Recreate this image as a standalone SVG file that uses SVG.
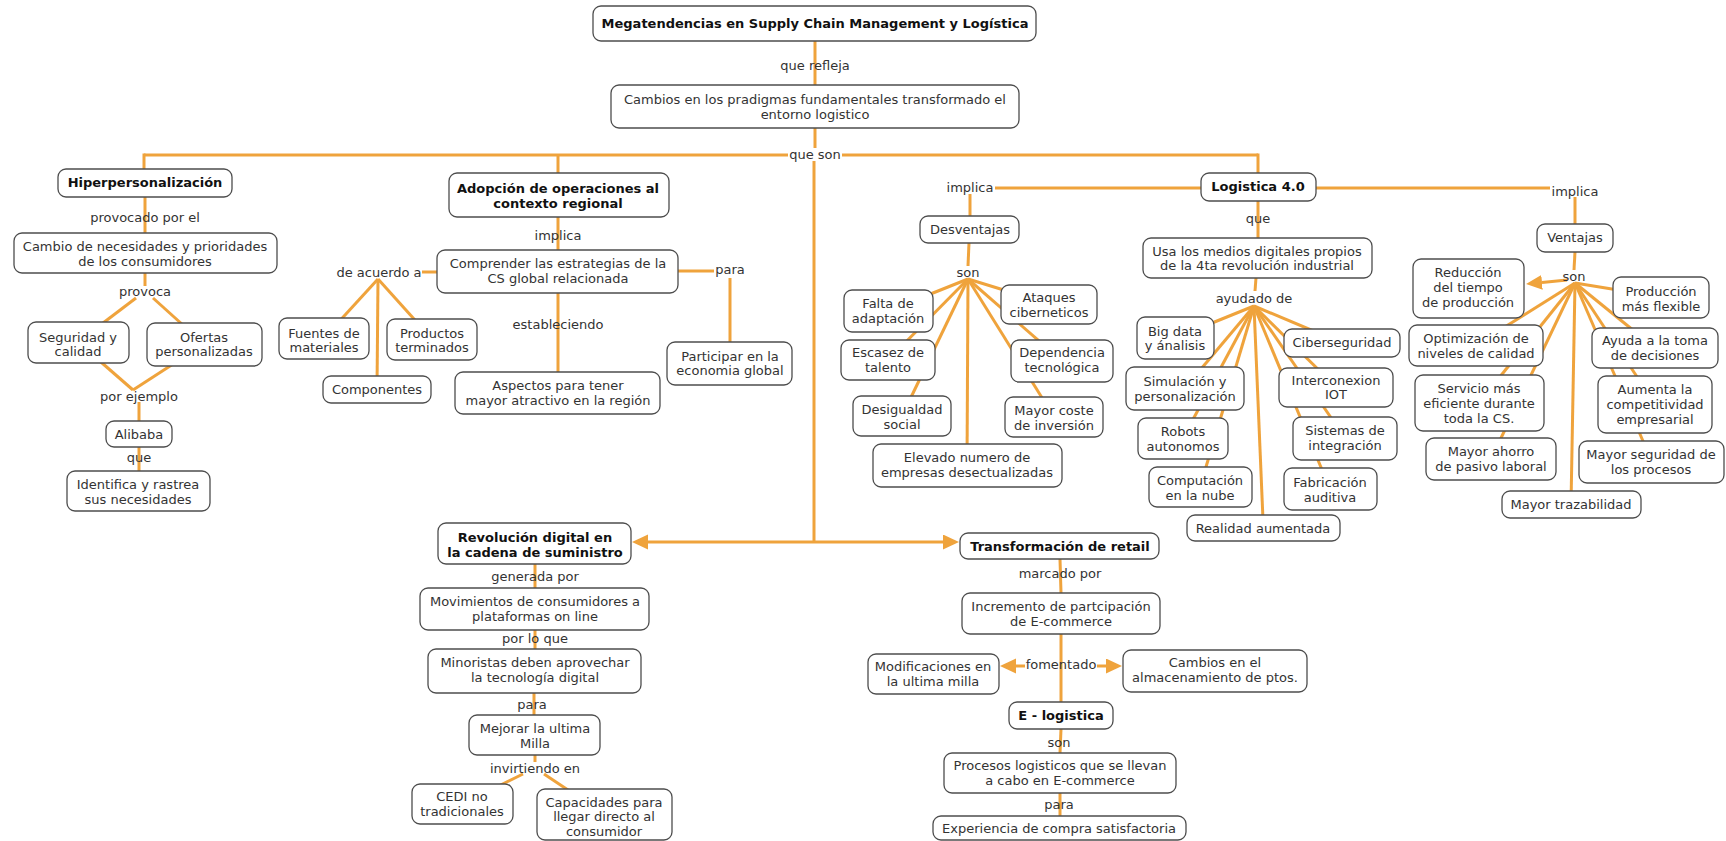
<svg xmlns="http://www.w3.org/2000/svg" width="1726" height="841" viewBox="0 0 1726 841">
<style>
.n rect{fill:#fff;stroke:#4d4d4d;stroke-width:1.3}
text{font-family:"DejaVu Sans",Verdana,sans-serif;font-size:13px;fill:#333;text-anchor:middle}
.b{font-weight:bold;fill:#111}
#connectors line{stroke:#EFA33C;stroke-width:3;fill:none}
</style>
<defs>
<marker id="ah" markerUnits="userSpaceOnUse" markerWidth="17" markerHeight="16" refX="0" refY="7.5" orient="auto"><path d="M0,0 L16,7.5 L0,15 z" fill="#EFA33C"/></marker>
</defs>
<rect width="1726" height="841" fill="#fff"/>
<g id="connectors">
<line x1="815" y1="41" x2="815" y2="85"/>
<line x1="815" y1="128" x2="815" y2="148"/>
<line x1="144" y1="155" x2="788" y2="155"/>
<line x1="842" y1="155" x2="1258" y2="155"/>
<line x1="144" y1="153.5" x2="144" y2="169"/>
<line x1="558" y1="155" x2="558" y2="173"/>
<line x1="1258" y1="153.5" x2="1258" y2="173"/>
<line x1="814" y1="161" x2="814" y2="542"/>
<line x1="814" y1="542" x2="648" y2="542" marker-end="url(#ah)"/>
<line x1="814" y1="542" x2="943" y2="542" marker-end="url(#ah)"/>
<line x1="145" y1="197" x2="145" y2="233"/>
<line x1="145" y1="273" x2="145" y2="286"/>
<line x1="136" y1="298" x2="78" y2="342"/>
<line x1="153" y1="298" x2="204" y2="344"/>
<line x1="78" y1="342" x2="133" y2="390"/>
<line x1="204" y1="344" x2="133" y2="390"/>
<line x1="139" y1="402" x2="139" y2="421"/>
<line x1="139" y1="447" x2="139" y2="471"/>
<line x1="378" y1="279" x2="324" y2="338"/>
<line x1="378" y1="279" x2="377" y2="389"/>
<line x1="378" y1="279" x2="432" y2="339"/>
<line x1="422" y1="272" x2="437" y2="272"/>
<line x1="558" y1="217" x2="558" y2="250"/>
<line x1="558" y1="293" x2="558" y2="372"/>
<line x1="678" y1="271" x2="714" y2="271"/>
<line x1="730" y1="278" x2="730" y2="342"/>
<line x1="995" y1="188" x2="1201" y2="188"/>
<line x1="970" y1="194" x2="970" y2="216"/>
<line x1="969" y1="243" x2="968" y2="266"/>
<line x1="968" y1="279" x2="888" y2="311"/>
<line x1="968" y1="279" x2="888" y2="360"/>
<line x1="968" y1="279" x2="902" y2="416"/>
<line x1="968" y1="279" x2="967" y2="465"/>
<line x1="968" y1="279" x2="1049" y2="304"/>
<line x1="968" y1="279" x2="1062" y2="361"/>
<line x1="968" y1="279" x2="1054" y2="417"/>
<line x1="1258" y1="201" x2="1258" y2="238"/>
<line x1="1256" y1="278" x2="1255" y2="291"/>
<line x1="1254" y1="306" x2="1175" y2="338"/>
<line x1="1254" y1="306" x2="1185" y2="388"/>
<line x1="1254" y1="306" x2="1183" y2="438"/>
<line x1="1254" y1="306" x2="1200" y2="487"/>
<line x1="1254" y1="306" x2="1263" y2="520"/>
<line x1="1254" y1="306" x2="1342" y2="343"/>
<line x1="1254" y1="306" x2="1336" y2="387"/>
<line x1="1254" y1="306" x2="1345" y2="438"/>
<line x1="1254" y1="306" x2="1330" y2="489"/>
<line x1="1316" y1="188" x2="1550" y2="188"/>
<line x1="1575" y1="197" x2="1575" y2="224"/>
<line x1="1575" y1="252" x2="1574" y2="270"/>
<line x1="1567" y1="280" x2="1542" y2="282.4" marker-end="url(#ah)"/>
<line x1="1575" y1="283" x2="1661" y2="297"/>
<line x1="1575" y1="283" x2="1476" y2="345"/>
<line x1="1575" y1="283" x2="1655" y2="348"/>
<line x1="1575" y1="283" x2="1479" y2="403"/>
<line x1="1575" y1="283" x2="1655" y2="404"/>
<line x1="1575" y1="283" x2="1491" y2="459"/>
<line x1="1575" y1="283" x2="1652" y2="462"/>
<line x1="1575" y1="283" x2="1571" y2="504"/>
<line x1="535" y1="564" x2="535" y2="588"/>
<line x1="535" y1="630" x2="535" y2="649"/>
<line x1="534" y1="693" x2="534" y2="715"/>
<line x1="535" y1="755" x2="535" y2="762"/>
<line x1="523" y1="774" x2="462" y2="804"/>
<line x1="544" y1="774" x2="604" y2="814"/>
<line x1="1060" y1="559" x2="1061" y2="593"/>
<line x1="1061" y1="634" x2="1061" y2="702"/>
<line x1="1025" y1="666" x2="1016" y2="666" marker-end="url(#ah)"/>
<line x1="1097" y1="666" x2="1106" y2="666" marker-end="url(#ah)"/>
<line x1="1061" y1="729" x2="1060" y2="753"/>
<line x1="1060" y1="793" x2="1060" y2="816"/>
</g>
<g class="n" id="n-mega"><rect x="593" y="6" width="443" height="35" rx="8"/><text class="b" x="815" y="28">Megatendencias en Supply Chain Management y Logística</text></g>
<g class="n" id="n-cambios"><rect x="611" y="85" width="408" height="43" rx="8"/><text x="815" y="104">Cambios en los pradigmas fundamentales transformado el</text><text x="815" y="119">entorno logistico</text></g>
<g class="n" id="n-hiper"><rect x="58" y="169" width="174" height="28" rx="8"/><text class="b" x="145" y="187">Hiperpersonalización</text></g>
<g class="n" id="n-cambio-nec"><rect x="14" y="233" width="263" height="40" rx="8"/><text x="145" y="251">Cambio de necesidades y prioridades</text><text x="145" y="266">de los consumidores</text></g>
<g class="n" id="n-seguridad"><rect x="28" y="322" width="101" height="41" rx="8"/><text x="78" y="342">Seguridad y</text><text x="78" y="356">calidad</text></g>
<g class="n" id="n-ofertas"><rect x="147" y="323" width="115" height="43" rx="8"/><text x="204" y="342">Ofertas</text><text x="204" y="356">personalizadas</text></g>
<g class="n" id="n-alibaba"><rect x="106" y="421" width="66" height="26" rx="8"/><text x="139" y="439">Alibaba</text></g>
<g class="n" id="n-identifica"><rect x="67" y="471" width="143" height="40" rx="8"/><text x="138" y="489">Identifica y rastrea</text><text x="138" y="504">sus necesidades</text></g>
<g class="n" id="n-adopcion"><rect x="449" y="173" width="220" height="44" rx="8"/><text class="b" x="558" y="193">Adopción de operaciones al</text><text class="b" x="558" y="208">contexto regional</text></g>
<g class="n" id="n-comprender"><rect x="437" y="250" width="241" height="43" rx="8"/><text x="558" y="268">Comprender las estrategias de la</text><text x="558" y="283">CS global relacionada</text></g>
<g class="n" id="n-fuentes"><rect x="279" y="318" width="90" height="41" rx="8"/><text x="324" y="338">Fuentes de</text><text x="324" y="352">materiales</text></g>
<g class="n" id="n-productos"><rect x="387" y="319" width="90" height="41" rx="8"/><text x="432" y="338">Productos</text><text x="432" y="352">terminados</text></g>
<g class="n" id="n-componentes"><rect x="323" y="376" width="108" height="27" rx="8"/><text x="377" y="394">Componentes</text></g>
<g class="n" id="n-aspectos"><rect x="455" y="372" width="205" height="42" rx="8"/><text x="558" y="390">Aspectos para tener</text><text x="558" y="405">mayor atractivo en la región</text></g>
<g class="n" id="n-participar"><rect x="667" y="342" width="125" height="43" rx="8"/><text x="730" y="361">Participar en la</text><text x="730" y="375">economia global</text></g>
<g class="n" id="n-logistica"><rect x="1201" y="173" width="115" height="28" rx="8"/><text class="b" x="1258" y="191">Logistica 4.0</text></g>
<g class="n" id="n-desventajas"><rect x="920" y="216" width="99" height="27" rx="8"/><text x="970" y="234">Desventajas</text></g>
<g class="n" id="n-falta"><rect x="844" y="290" width="89" height="42" rx="8"/><text x="888" y="308">Falta de</text><text x="888" y="323">adaptación</text></g>
<g class="n" id="n-escasez"><rect x="841" y="340" width="94" height="40" rx="8"/><text x="888" y="357">Escasez de</text><text x="888" y="372">talento</text></g>
<g class="n" id="n-desigualdad"><rect x="853" y="396" width="98" height="40" rx="8"/><text x="902" y="414">Desigualdad</text><text x="902" y="429">social</text></g>
<g class="n" id="n-ataques"><rect x="1001" y="285" width="96" height="39" rx="8"/><text x="1049" y="302">Ataques</text><text x="1049" y="317">ciberneticos</text></g>
<g class="n" id="n-dependencia"><rect x="1011" y="340" width="102" height="42" rx="8"/><text x="1062" y="357">Dependencia</text><text x="1062" y="372">tecnológica</text></g>
<g class="n" id="n-coste"><rect x="1005" y="397" width="98" height="40" rx="8"/><text x="1054" y="415">Mayor coste</text><text x="1054" y="430">de inversión</text></g>
<g class="n" id="n-elevado"><rect x="873" y="444" width="189" height="43" rx="8"/><text x="967" y="462">Elevado numero de</text><text x="967" y="477">empresas desectualizadas</text></g>
<g class="n" id="n-usa"><rect x="1143" y="238" width="229" height="40" rx="8"/><text x="1257" y="256">Usa los medios digitales propios</text><text x="1257" y="270">de la 4ta revolución industrial</text></g>
<g class="n" id="n-bigdata"><rect x="1137" y="317" width="77" height="42" rx="8"/><text x="1175" y="336">Big data</text><text x="1175" y="350">y ánalisis</text></g>
<g class="n" id="n-simulacion"><rect x="1126" y="367" width="118" height="43" rx="8"/><text x="1185" y="386">Simulación y</text><text x="1185" y="401">personalización</text></g>
<g class="n" id="n-robots"><rect x="1138" y="418" width="90" height="41" rx="8"/><text x="1183" y="436">Robots</text><text x="1183" y="451">autonomos</text></g>
<g class="n" id="n-computacion"><rect x="1149" y="467" width="103" height="40" rx="8"/><text x="1200" y="485">Computación</text><text x="1200" y="500">en la nube</text></g>
<g class="n" id="n-realidad"><rect x="1187" y="515" width="153" height="26" rx="8"/><text x="1263" y="533">Realidad aumentada</text></g>
<g class="n" id="n-ciber"><rect x="1284" y="329" width="116" height="28" rx="8"/><text x="1342" y="347">Ciberseguridad</text></g>
<g class="n" id="n-iot"><rect x="1279" y="368" width="114" height="39" rx="8"/><text x="1336" y="385">Interconexion</text><text x="1336" y="399">IOT</text></g>
<g class="n" id="n-sistemas"><rect x="1293" y="417" width="104" height="43" rx="8"/><text x="1345" y="435">Sistemas de</text><text x="1345" y="450">integración</text></g>
<g class="n" id="n-fabricacion"><rect x="1284" y="468" width="93" height="42" rx="8"/><text x="1330" y="487">Fabricación</text><text x="1330" y="502">auditiva</text></g>
<g class="n" id="n-ventajas"><rect x="1537" y="224" width="76" height="28" rx="8"/><text x="1575" y="242">Ventajas</text></g>
<g class="n" id="n-reduccion"><rect x="1413" y="259" width="111" height="59" rx="8"/><text x="1468" y="277">Reducción</text><text x="1468" y="292">del tiempo</text><text x="1468" y="307">de producción</text></g>
<g class="n" id="n-produccion"><rect x="1613" y="277" width="96" height="41" rx="8"/><text x="1661" y="296">Producción</text><text x="1661" y="311">más flexible</text></g>
<g class="n" id="n-optimizacion"><rect x="1409" y="325" width="134" height="41" rx="8"/><text x="1476" y="343">Optimización de</text><text x="1476" y="358">niveles de calidad</text></g>
<g class="n" id="n-ayuda"><rect x="1592" y="328" width="126" height="40" rx="8"/><text x="1655" y="345">Ayuda a la toma</text><text x="1655" y="360">de decisiones</text></g>
<g class="n" id="n-servicio"><rect x="1415" y="375" width="129" height="56" rx="8"/><text x="1479" y="393">Servicio más</text><text x="1479" y="408">eficiente durante</text><text x="1479" y="423">toda la CS.</text></g>
<g class="n" id="n-aumenta"><rect x="1598" y="376" width="114" height="57" rx="8"/><text x="1655" y="394">Aumenta la</text><text x="1655" y="409">competitividad</text><text x="1655" y="424">empresarial</text></g>
<g class="n" id="n-ahorro"><rect x="1426" y="438" width="130" height="42" rx="8"/><text x="1491" y="456">Mayor ahorro</text><text x="1491" y="471">de pasivo laboral</text></g>
<g class="n" id="n-seguridad-proc"><rect x="1579" y="441" width="145" height="42" rx="8"/><text x="1651" y="459">Mayor seguridad de</text><text x="1651" y="474">los procesos</text></g>
<g class="n" id="n-trazabilidad"><rect x="1502" y="491" width="139" height="27" rx="8"/><text x="1571" y="509">Mayor trazabilidad</text></g>
<g class="n" id="n-revolucion"><rect x="438" y="523" width="193" height="41" rx="8"/><text class="b" x="535" y="542">Revolución digital en</text><text class="b" x="535" y="557">la cadena de suministro</text></g>
<g class="n" id="n-movimientos"><rect x="420" y="588" width="229" height="42" rx="8"/><text x="535" y="606">Movimientos de consumidores a</text><text x="535" y="621">plataformas on line</text></g>
<g class="n" id="n-minoristas"><rect x="428" y="649" width="213" height="44" rx="8"/><text x="535" y="667">Minoristas deben aprovechar</text><text x="535" y="682">la tecnología digital</text></g>
<g class="n" id="n-mejorar"><rect x="469" y="715" width="131" height="40" rx="8"/><text x="535" y="733">Mejorar la ultima</text><text x="535" y="748">Milla</text></g>
<g class="n" id="n-cedi"><rect x="412" y="784" width="101" height="40" rx="8"/><text x="462" y="801">CEDI no</text><text x="462" y="816">tradicionales</text></g>
<g class="n" id="n-capacidades"><rect x="537" y="789" width="135" height="51" rx="8"/><text x="604" y="807">Capacidades para</text><text x="604" y="821">llegar directo al</text><text x="604" y="836">consumidor</text></g>
<g class="n" id="n-transformacion"><rect x="960" y="533" width="199" height="26" rx="8"/><text class="b" x="1060" y="551">Transformación de retail</text></g>
<g class="n" id="n-incremento"><rect x="962" y="593" width="198" height="41" rx="8"/><text x="1061" y="611">Incremento de partcipación</text><text x="1061" y="626">de E-commerce</text></g>
<g class="n" id="n-modificaciones"><rect x="868" y="654" width="131" height="40" rx="8"/><text x="933" y="671">Modificaciones en</text><text x="933" y="686">la ultima milla</text></g>
<g class="n" id="n-cambios-alm"><rect x="1123" y="650" width="184" height="42" rx="8"/><text x="1215" y="667">Cambios en el</text><text x="1215" y="682">almacenamiento de ptos.</text></g>
<g class="n" id="n-elogistica"><rect x="1009" y="702" width="104" height="27" rx="8"/><text class="b" x="1061" y="720">E - logistica</text></g>
<g class="n" id="n-procesos"><rect x="944" y="753" width="232" height="40" rx="8"/><text x="1060" y="770">Procesos logisticos que se llevan</text><text x="1060" y="785">a cabo en E-commerce</text></g>
<g class="n" id="n-experiencia"><rect x="933" y="816" width="253" height="24" rx="8"/><text x="1059" y="833">Experiencia de compra satisfactoria</text></g>
<g id="labels">
<text x="815" y="70">que refleja</text>
<text x="815" y="159">que son</text>
<text x="145" y="222">provocado por el</text>
<text x="145" y="296">provoca</text>
<text x="139" y="401">por ejemplo</text>
<text x="139" y="462">que</text>
<text x="558" y="240">implica</text>
<text x="379" y="277">de acuerdo a</text>
<text x="558" y="329">estableciendo</text>
<text x="730" y="274">para</text>
<text x="970" y="192">implica</text>
<text x="968" y="277">son</text>
<text x="1258" y="223">que</text>
<text x="1254" y="303">ayudado de</text>
<text x="1575" y="196">implica</text>
<text x="1574" y="281">son</text>
<text x="535" y="581">generada por</text>
<text x="535" y="643">por lo que</text>
<text x="532" y="709">para</text>
<text x="535" y="773">invirtiendo en</text>
<text x="1060" y="578">marcado por</text>
<text x="1061" y="669">fomentado</text>
<text x="1059" y="747">son</text>
<text x="1059" y="809">para</text>
</g>
</svg>
